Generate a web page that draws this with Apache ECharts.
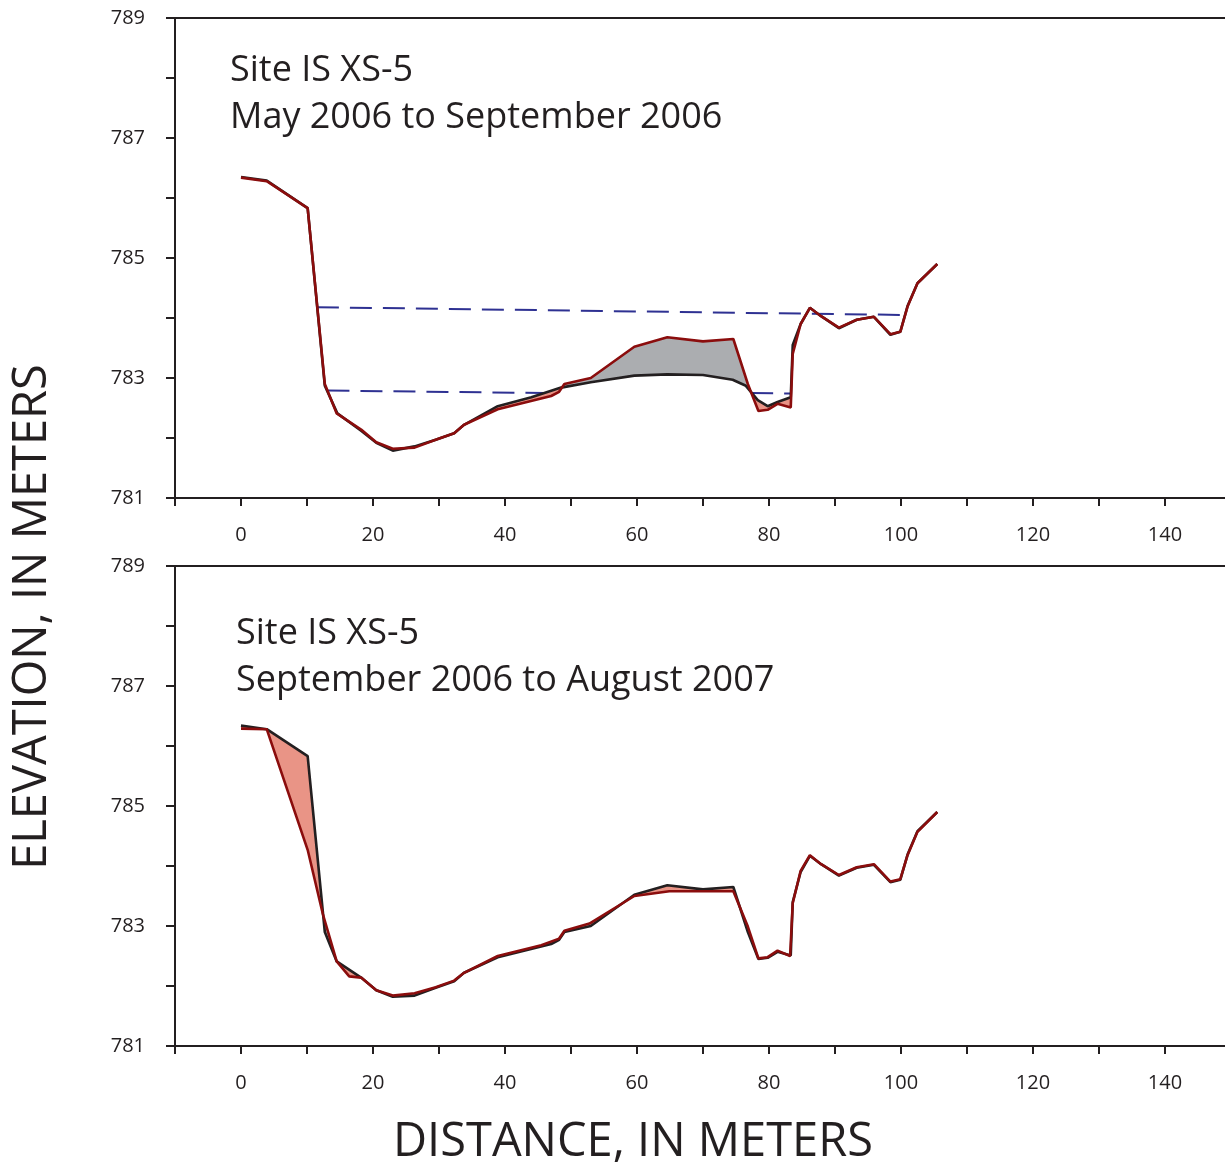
<!DOCTYPE html>
<html>
<head>
<meta charset="utf-8">
<script src="https://cdn.jsdelivr.net/npm/echarts@6/dist/echarts.min.js"></script>
<style>
html,body{margin:0;padding:0;background:#fff;}
#chart{width:1225px;height:1169px;}
</style>
</head>
<body>
<div id="chart"></div>
<script>
// ---- Data (distance in meters, elevation in meters) ----
const distMay2006 = [0, 3.9, 10.1, 12.7, 14.6, 18.2, 20.5, 23, 26.3, 29.5, 32.3, 33.8, 38.9, 44, 48.5, 53, 59.6, 64.6, 70, 74.5, 76.5, 78.3, 79.8, 81.3, 83.3, 83.6, 84.8, 86.2, 87.9, 90.6, 93.3, 95.9, 98.4, 99.9, 101, 102.5, 105.5];
const elevMay2006 = [786.35, 786.29, 785.83, 782.87, 782.41, 782.12, 781.92, 781.79, 781.86, 781.97, 782.08, 782.22, 782.53, 782.68, 782.84, 782.93, 783.04, 783.06, 783.05, 782.97, 782.87, 782.63, 782.53, 782.60, 782.68, 783.55, 783.90, 784.17, 784.03, 783.83, 783.97, 784.02, 783.72, 783.77, 784.20, 784.58, 784.90];

const distSep2006 = [0, 3.9, 10.1, 12.7, 14.5, 18.2, 20.5, 23, 26.3, 29.5, 32.3, 33.8, 38.9, 47, 48.2, 49, 53, 59.6, 64.6, 70, 74.6, 76.8, 78.4, 79.8, 81.3, 83.3, 83.6, 84.8, 86.2, 87.9, 90.6, 93.3, 95.9, 98.4, 99.9, 101, 102.5, 105.5];
const elevSep2006 = [786.34, 786.28, 785.83, 782.90, 782.41, 782.14, 781.93, 781.82, 781.84, 781.97, 782.08, 782.22, 782.48, 782.70, 782.77, 782.90, 783.00, 783.52, 783.68, 783.61, 783.65, 782.90, 782.45, 782.47, 782.57, 782.51, 783.40, 783.90, 784.17, 784.03, 783.84, 783.97, 784.02, 783.73, 783.77, 784.19, 784.58, 784.90];

const distAug2007 = [0, 3.9, 10.1, 12.4, 14.5, 16.4, 18.2, 20.5, 23, 26.3, 29.5, 32.3, 33.8, 38.9, 45.5, 48.2, 49, 52.8, 59.6, 64.9, 70.1, 74.6, 76.8, 78.4, 79.8, 81.3, 83.2, 83.6, 84.8, 86.2, 87.9, 90.6, 93.3, 95.9, 98.4, 99.9, 101, 102.5, 105.5];
const elevAug2007 = [786.29, 786.28, 784.27, 783.20, 782.41, 782.16, 782.14, 781.93, 781.84, 781.88, 781.98, 782.09, 782.22, 782.50, 782.68, 782.79, 782.92, 783.04, 783.50, 783.58, 783.58, 783.58, 782.99, 782.46, 782.48, 782.59, 782.50, 783.38, 783.92, 784.18, 784.03, 783.85, 783.98, 784.03, 783.74, 783.78, 784.18, 784.57, 784.90];

// water-surface (dashed) lines in the upper panel
const waterHighDist = [11.5, 100.8];
const waterHighElev = [784.18, 784.05];
const waterLow1Dist = [13.1, 46];
const waterLow1Elev = [782.79, 782.75];
const waterLow2Dist = [77.3, 83.3];
const waterLow2Elev = [782.75, 782.74];

// axis ticks
const yTickLabels = [781, 783, 785, 787, 789];
const xTickLabels = [0, 20, 40, 60, 80, 100, 120, 140];
const xTickValues = [-10, 0, 10, 20, 30, 40, 50, 60, 70, 80, 90, 100, 110, 120, 130, 140];

const panelTitles = [
  ['Site IS XS-5', 'May 2006 to September 2006'],
  ['Site IS XS-5', 'September 2006 to August 2007']
];

// ---- Styling ----
const INK = '#231f20';
const RED = '#8b0d0d';
const GRAY = '#abadb0';
const SALMON = '#e99486';
const BLUE = '#2e3192';
const FONT = 'Open Sans';

function pairs(xs, ys) { return xs.map((x, i) => [x, ys[i]]); }

function interp(xs, ys, x) {
  if (x <= xs[0]) return ys[0];
  if (x >= xs[xs.length - 1]) return ys[ys.length - 1];
  for (let i = 0; i < xs.length - 1; i++) {
    if (x >= xs[i] && x <= xs[i + 1]) {
      const t = (xs[i + 1] === xs[i]) ? 0 : (x - xs[i]) / (xs[i + 1] - xs[i]);
      return ys[i] + t * (ys[i + 1] - ys[i]);
    }
  }
  return ys[ys.length - 1];
}

// polygons between old (a) and new (b) surveys
function buildPolys(xa, ya, xb, yb) {
  const xs = Array.from(new Set([...xa, ...xb])).sort((p, q) => p - q);
  const pts = xs.map(x => ({ x, a: interp(xa, ya, x), b: interp(xb, yb, x) }));
  const seq = [];
  for (let i = 0; i < pts.length; i++) {
    seq.push(pts[i]);
    if (i < pts.length - 1) {
      const d0 = pts[i].b - pts[i].a, d1 = pts[i + 1].b - pts[i + 1].a;
      if (d0 * d1 < 0) {
        const t = d0 / (d0 - d1);
        const x = pts[i].x + t * (pts[i + 1].x - pts[i].x);
        const a = pts[i].a + t * (pts[i + 1].a - pts[i].a);
        seq.push({ x, a, b: a });
      }
    }
  }
  const polys = [];
  let cur = null;
  const close = () => {
    if (cur) {
      const fwd = cur.pts.map(p => [p.x, p.a]);
      const back = cur.pts.slice().reverse().map(p => [p.x, p.b]);
      polys.push({ up: cur.sign > 0, pts: fwd.concat(back) });
      cur = null;
    }
  };
  for (let i = 0; i < seq.length - 1; i++) {
    const p = seq[i], q = seq[i + 1];
    const d = (p.b - p.a) + (q.b - q.a);
    const sign = d > 1e-9 ? 1 : (d < -1e-9 ? -1 : 0);
    if (sign === 0) { close(); continue; }
    if (cur && cur.sign === sign) cur.pts.push(q);
    else { close(); cur = { sign, pts: [p, q] }; }
  }
  close();
  return polys;
}

const polysTop = buildPolys(distMay2006, elevMay2006, distSep2006, elevSep2006);
const polysBot = buildPolys(distSep2006, elevSep2006, distAug2007, elevAug2007);

const chart = echarts.init(document.getElementById('chart'), null, { renderer: 'canvas' });

const gridLeft = 175, gridH = 480;
const gridTops = [18, 566];
const X_MIN = -10, X_MAX = 149.1;

function xAxes(gi) {
  return [
    {
      type: 'value', gridIndex: gi, position: 'bottom', min: X_MIN, max: X_MAX, interval: 10,
      axisLine: { show: true, onZero: false, lineStyle: { color: INK, width: 2 } },
      axisTick: { show: true, inside: false, length: 8, lineStyle: { color: INK, width: 2 }, customValues: xTickValues },
      axisLabel: {
        show: true, margin: 27, color: INK, fontFamily: FONT, fontSize: 20,
        customValues: xTickLabels,
        formatter: v => (xTickLabels.indexOf(v) >= 0 ? String(v) : '')
      },
      splitLine: { show: false }
    },
    {
      type: 'value', gridIndex: gi, position: 'top', min: X_MIN, max: X_MAX,
      axisLine: { show: true, onZero: false, lineStyle: { color: INK, width: 2 } },
      axisTick: { show: false }, axisLabel: { show: false }, splitLine: { show: false }
    }
  ];
}
function yAxis(gi) {
  return {
    type: 'value', gridIndex: gi, min: 781, max: 789, interval: 1,
    axisLine: { show: true, onZero: false, lineStyle: { color: INK, width: 2 } },
    axisTick: { show: true, inside: false, length: 9, lineStyle: { color: INK, width: 2 } },
    axisLabel: {
      show: true, margin: 30, color: INK, fontFamily: FONT, fontSize: 20,
      formatter: v => (yTickLabels.indexOf(v) >= 0 ? String(v) : '')
    },
    splitLine: { show: false }
  };
}

function fillSeries(polys, xi, yi) {
  return {
    type: 'custom', xAxisIndex: xi, yAxisIndex: yi, silent: true, z: 1, clip: true,
    data: polys.map((p, i) => [i]),
    renderItem: (params, api) => {
      const poly = polys[params.dataIndex];
      return {
        type: 'polygon',
        shape: { points: poly.pts.map(p => api.coord(p)) },
        style: { fill: poly.up ? GRAY : SALMON, stroke: null }
      };
    }
  };
}
function lineSeries(data, color, width, xi, yi, z, dash) {
  return {
    type: 'line', xAxisIndex: xi, yAxisIndex: yi, data, symbol: 'none', silent: true, z,
    lineStyle: { color, width, type: dash || 'solid' }
  };
}

const LW = 2.6;
const option = {
  animation: false,
  backgroundColor: '#ffffff',
  grid: gridTops.map(t => ({ left: gridLeft, top: t, right: 0, height: gridH, containLabel: false })),
  xAxis: [...xAxes(0), ...xAxes(1)],
  yAxis: [yAxis(0), yAxis(1)],
  series: [
    lineSeries(pairs(waterHighDist, waterHighElev), BLUE, 2, 0, 0, 2, [22, 11]),
    lineSeries(pairs(waterLow1Dist, waterLow1Elev), BLUE, 2, 0, 0, 2, [22, 11]),
    lineSeries(pairs(waterLow2Dist, waterLow2Elev), BLUE, 2, 0, 0, 2, [22, 11]),
    fillSeries(polysTop, 0, 0),
    lineSeries(pairs(distMay2006, elevMay2006), INK, LW, 0, 0, 3),
    lineSeries(pairs(distSep2006, elevSep2006), RED, LW, 0, 0, 4),
    fillSeries(polysBot, 2, 1),
    lineSeries(pairs(distSep2006, elevSep2006), INK, LW, 2, 1, 3),
    lineSeries(pairs(distAug2007, elevAug2007), RED, LW, 2, 1, 4)
  ],
  graphic: [
    {
      type: 'text', left: 230, top: 47,
      style: { text: panelTitles[0].join('\n'), font: '36px "' + FONT + '"', fill: INK, lineHeight: 47 }
    },
    {
      type: 'text', left: 236, top: 610,
      style: { text: panelTitles[1].join('\n'), font: '36px "' + FONT + '"', fill: INK, lineHeight: 47 }
    },
    {
      type: 'text', x: 33, y: 617, rotation: Math.PI / 2,
      style: { text: 'ELEVATION, IN METERS', font: '47px "' + FONT + '"', fill: INK, textAlign: 'center', textVerticalAlign: 'middle' }
    },
    {
      type: 'text', x: 633, y: 1143,
      style: { text: 'DISTANCE, IN METERS', font: '47px "' + FONT + '"', fill: INK, textAlign: 'center', textVerticalAlign: 'middle' }
    }
  ]
};
chart.setOption(option);
</script>
</body>
</html>
